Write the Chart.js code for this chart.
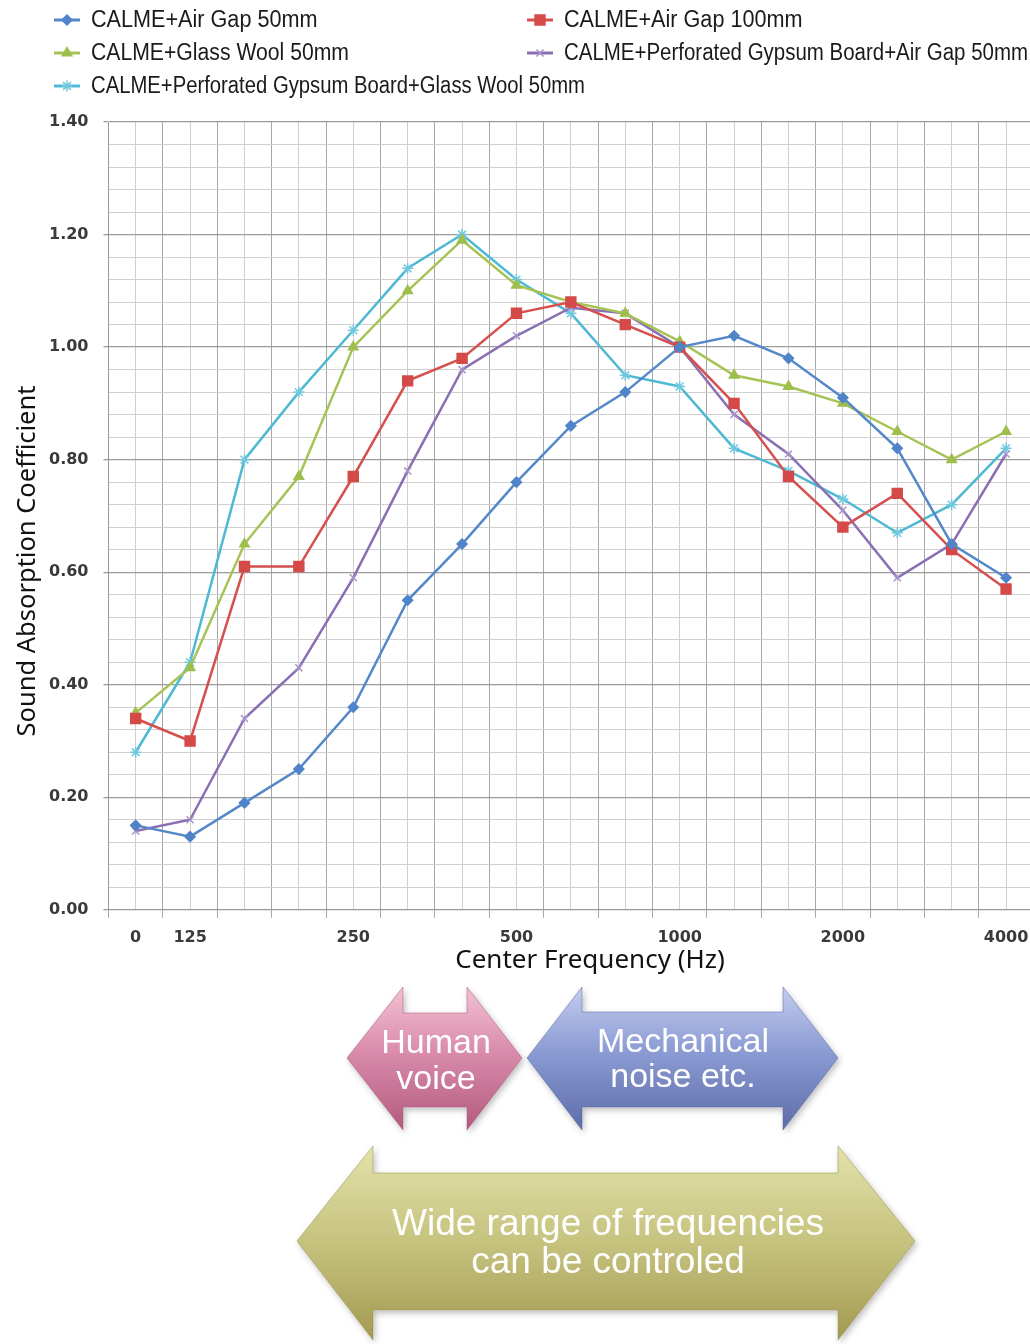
<!DOCTYPE html>
<html lang="en">
<head>
    <meta charset="UTF-8">
    <title>Sound Absorption Coefficient</title>
    <script src="https://cdn.jsdelivr.net/npm/chart.js"></script>
    <style>
        body { margin: 0; background: #fff; }
        #page { position: relative; width: 1030px; height: 1344px; overflow: hidden; }
        #chartBox { position: absolute; left: 0; top: 0; width: 1030px; height: 985px; }
        #arrows { position: absolute; left: 0; top: 0; pointer-events: none; }
        #arrows text { font-family: "Liberation Sans", Arial, sans-serif; fill: #fff; text-anchor: middle; dominant-baseline: central; }
    </style>
</head>
<body>
<div id="page">
    <div id="chartBox"><canvas id="chart"></canvas></div>

    <!-- frequency range arrows under the chart -->
    <svg id="arrows" width="1030" height="1344">
        <defs>
            <linearGradient id="gPink" x1="0" y1="0" x2="0" y2="1">
                <stop offset="0" stop-color="#f2c2d4"/>
                <stop offset="0.45" stop-color="#d98cab"/>
                <stop offset="1" stop-color="#b35a7e"/>
            </linearGradient>
            <linearGradient id="gBlue" x1="0" y1="0" x2="0" y2="1">
                <stop offset="0" stop-color="#c4cdf0"/>
                <stop offset="0.45" stop-color="#8b9bd3"/>
                <stop offset="1" stop-color="#5d6ca8"/>
            </linearGradient>
            <linearGradient id="gOlive" x1="0" y1="0" x2="0" y2="1">
                <stop offset="0" stop-color="#e2e2aa"/>
                <stop offset="0.5" stop-color="#c6c27e"/>
                <stop offset="1" stop-color="#a39a52"/>
            </linearGradient>
            <filter id="shadow" x="-10%" y="-10%" width="120%" height="130%">
                <feDropShadow dx="2" dy="3" stdDeviation="3" flood-color="#000" flood-opacity="0.25"/>
            </filter>
        </defs>
        <polygon filter="url(#shadow)" fill="url(#gPink)" stroke="#a85478" stroke-opacity="0.5"
                 points="347,1058 403,987 403,1013 467,1013 467,987 522,1058 467,1130 467,1107 403,1107 403,1130"/>
        <polygon filter="url(#shadow)" fill="url(#gBlue)" stroke="#56659e" stroke-opacity="0.5"
                 points="527,1058 582,987 582,1012 783,1012 783,987 838,1058 783,1130 783,1107 582,1107 582,1130"/>
        <polygon filter="url(#shadow)" fill="url(#gOlive)" stroke="#968d48" stroke-opacity="0.5"
                 points="297,1241 373,1146 373,1173 838,1173 838,1146 915,1241 838,1340 838,1310 373,1310 373,1340"/>
        <text x="436" y="1041" font-size="34">Human</text>
        <text x="436" y="1077" font-size="34">voice</text>
        <text x="683" y="1040" font-size="34">Mechanical</text>
        <text x="683" y="1075" font-size="34">noise etc.</text>
        <text x="608" y="1222" font-size="37">Wide range of frequencies</text>
        <text x="608" y="1260" font-size="37">can be controled</text>
    </svg>
</div>

<script>
    // 1/3 octave band centre frequencies (Hz)
    const freqs = [100, 125, 160, 200, 250, 315, 400, 500, 630, 800, 1000, 1250, 1600, 2000, 2500, 3150, 4000];
    const tickText = ['0', '125', '', '', '250', '', '', '500', '', '', '1000', '', '', '2000', '', '', '4000'];

    // sound absorption coefficient per band
    const airGap50 = [0.15, 0.13, 0.19, 0.25, 0.36, 0.55, 0.65, 0.76, 0.86, 0.92, 1.00, 1.02, 0.98, 0.91, 0.82, 0.65, 0.59];
    const airGap100 = [0.34, 0.30, 0.61, 0.61, 0.77, 0.94, 0.98, 1.06, 1.08, 1.04, 1.00, 0.90, 0.77, 0.68, 0.74, 0.64, 0.57];
    const glassWool50 = [0.35, 0.43, 0.65, 0.77, 1.00, 1.10, 1.19, 1.11, 1.08, 1.06, 1.01, 0.95, 0.93, 0.90, 0.85, 0.80, 0.85];
    const gypsumAirGap50 = [0.14, 0.16, 0.34, 0.43, 0.59, 0.78, 0.96, 1.02, 1.07, 1.06, 1.00, 0.88, 0.81, 0.71, 0.59, 0.65, 0.81];
    const gypsumGlassWool50 = [0.28, 0.44, 0.80, 0.92, 1.03, 1.14, 1.20, 1.12, 1.06, 0.95, 0.93, 0.82, 0.78, 0.73, 0.67, 0.72, 0.82];

    const seriesNames = [
        'CALME+Air Gap 50mm',
        'CALME+Air Gap 100mm',
        'CALME+Glass Wool 50mm',
        'CALME+Perforated Gypsum Board+Air Gap 50mm',
        'CALME+Perforated Gypsum Board+Glass Wool 50mm'
    ];

    const toPoints = vals => vals.map((v, i) => ({ x: i, y: v }));

    function series(label, vals, color, markColor, style, radius) {
        return {
            label: label,
            data: toPoints(vals),
            borderColor: color,
            backgroundColor: markColor,
            borderWidth: 2.5,
            tension: 0,
            pointStyle: style,
            pointRadius: radius,
            pointBorderColor: markColor,
            pointBackgroundColor: markColor,
            pointBorderWidth: 1.5
        };
    }

    // legend spots: [marker centre x, y, text x, max text width]
    const legendSpots = [[67, 20, 91, 228], [540, 20, 564, 242], [67, 53, 91, 258], [540, 53, 564, 464], [67, 86, 91, 494]];

    const overlay = {
        id: 'overlay',
        afterDraw(chart) {
            const ctx = chart.ctx;
            ctx.save();
            chart.data.datasets.forEach((ds, i) => {
                const [mx, my, tx, tw] = legendSpots[i];
                ctx.strokeStyle = ds.borderColor;
                ctx.lineWidth = 3;
                ctx.beginPath();
                ctx.moveTo(mx - 13, my);
                ctx.lineTo(mx + 13, my);
                ctx.stroke();
                ctx.fillStyle = ds.pointBackgroundColor;
                ctx.strokeStyle = ds.pointBorderColor;
                ctx.lineWidth = 1.5;
                Chart.helpers.drawPoint(ctx, { pointStyle: ds.pointStyle, radius: ds.pointRadius, borderWidth: 1.5, rotation: 0 }, mx, my);

                ctx.save();
                ctx.translate(tx, my);
                ctx.scale(0.92, 1);
                ctx.fillStyle = '#1a1a1a';
                ctx.font = '23.5px "Liberation Sans", Arial, sans-serif';
                ctx.textAlign = 'left';
                ctx.textBaseline = 'middle';
                ctx.fillText(ds.label, 0, 1, tw / 0.92);
                ctx.restore();
            });

            // axis titles
            ctx.fillStyle = '#111';
            ctx.textAlign = 'center';
            ctx.textBaseline = 'middle';
            ctx.font = '26px "Noto Sans", sans-serif';
            ctx.fillText('Center Frequency (Hz)', 590, 961);
            ctx.font = '25.5px "Noto Sans", sans-serif';
            ctx.translate(28, 561);
            ctx.rotate(-Math.PI / 2);
            ctx.fillText('Sound Absorption Coefficient', 0, 0);
            ctx.restore();
        }
    };

    Chart.defaults.font.family = '"DejaVu Sans", sans-serif';
    Chart.defaults.color = '#3a3a3a';

    const isMajorY = v => Math.abs(v * 5 - Math.round(v * 5)) < 1e-6;

    new Chart(document.getElementById('chart'), {
        type: 'line',
        data: {
            datasets: [
                series(seriesNames[0], airGap50, '#5488c9', '#4f84c8', 'rectRot', 5),
                series(seriesNames[1], airGap100, '#d5504e', '#d44a48', 'rect', 7),
                series(seriesNames[2], glassWool50, '#a6c355', '#9fbf4c', 'triangle', 5.5),
                series(seriesNames[3], gypsumAirGap50, '#8a70b3', '#a893cc', 'crossRot', 5),
                series(seriesNames[4], gypsumGlassWool50, '#4eb9d3', '#70c8de', 'star', 5.5)
            ]
        },
        options: {
            responsive: true,
            maintainAspectRatio: false,
            animation: false,
            layout: { autoPadding: false, padding: { top: 122, left: 34, right: 0, bottom: 28 } },
            plugins: { legend: { display: false }, tooltip: { enabled: false } },
            scales: {
                x: {
                    type: 'linear',
                    min: -0.5,
                    max: 16.44,
                    afterBuildTicks: axis => {
                        const t = [];
                        for (let k = -1; k <= (freqs.length - 1) * 2; k++) t.push({ value: k / 2 });
                        axis.ticks = t;
                    },
                    // labels sit inside the plot width, so no side padding is wanted
                    afterFit: axis => { axis.paddingLeft = 0; axis.paddingRight = 0; },
                    ticks: {
                        autoSkip: false,
                        maxRotation: 0,
                        padding: 10,
                        color: '#3a3a3a',
                        font: { size: 16, weight: 'bold' },
                        callback: v => Number.isInteger(v) ? tickText[v] : ''
                    },
                    grid: {
                        color: c => Number.isInteger(c.tick.value) ? '#d0d0d0' : '#a6a6a6',
                        tickColor: c => Number.isInteger(c.tick.value) ? 'rgba(0,0,0,0)' : '#a6a6a6',
                        tickLength: 8,
                        lineWidth: 1
                    },
                    border: { color: '#999' }
                },
                y: {
                    min: 0,
                    max: 1.4,
                    afterBuildTicks: axis => {
                        const t = [];
                        for (let k = 0; k <= 35; k++) t.push({ value: Math.round(k * 4) / 100 });
                        axis.ticks = t;
                    },
                    ticks: {
                        autoSkip: false,
                        padding: 15,
                        color: '#3a3a3a',
                        font: { size: 16, weight: 'bold' },
                        callback: v => isMajorY(v) ? v.toFixed(2) : ''
                    },
                    grid: {
                        color: c => isMajorY(c.tick.value) ? '#9c9c9c' : '#d0d0d0',
                        tickColor: c => isMajorY(c.tick.value) ? '#9c9c9c' : 'rgba(0,0,0,0)',
                        lineWidth: c => isMajorY(c.tick.value) ? 1.3 : 1,
                        tickLength: 5
                    },
                    border: { color: '#999' }
                }
            }
        },
        plugins: [overlay]
    });
</script>
</body>
</html>
